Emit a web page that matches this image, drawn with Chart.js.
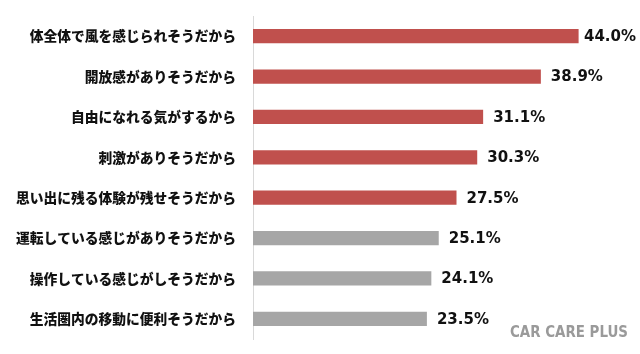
<!DOCTYPE html>
<html>
<head>
<meta charset="utf-8">
<script src="https://cdn.jsdelivr.net/npm/chart.js@4/dist/chart.umd.min.js"></script>
<style>
  html, body { margin: 0; padding: 0; background: #fff; }
  #wrap { width: 640px; height: 354px; }
</style>
</head>
<body>
<div id="wrap"><canvas id="myChart" width="640" height="354"></canvas></div>
<script>
// Data
const reasons = [
  '体全体で風を感じられそうだから',
  '開放感がありそうだから',
  '自由になれる気がするから',
  '刺激がありそうだから',
  '思い出に残る体験が残せそうだから',
  '運転している感じがありそうだから',
  '操作している感じがしそうだから',
  '生活圏内の移動に便利そうだから'
];
const shares = [44.0, 38.9, 31.1, 30.3, 27.5, 25.1, 24.1, 23.5];
const highlightCount = 5;

const RED = '#c0504d';
const GREY = '#a6a6a6';

// value labels at end of bars
const valueLabels = {
  id: 'valueLabels',
  afterDatasetsDraw(chart) {
    const ctx = chart.ctx;
    const meta = chart.getDatasetMeta(0);
    ctx.save();
    ctx.font = 'bold 15px "DejaVu Sans", Verdana, sans-serif';
    ctx.fillStyle = '#111';
    ctx.textBaseline = 'middle';
    meta.data.forEach((bar, i) => {
      const txt = shares[i].toFixed(1) + '%';
      const w = ctx.measureText(txt).width;
      let x = bar.x + 10;
      if (x + w > chart.width - 4) x = chart.width - 4 - w;
      ctx.fillText(txt, x, bar.y + 1);
    });
    ctx.restore();
  }
};

// watermark
const watermark = {
  id: 'watermark',
  afterDraw(chart) {
    const ctx = chart.ctx;
    ctx.save();
    ctx.font = 'bold 15px "DejaVu Sans Condensed", "Roboto", sans-serif';
    ctx.fillStyle = '#9a9a9a';
    ctx.textBaseline = 'alphabetic';
    ctx.textAlign = 'left';
    ctx.fillText('CAR CARE PLUS', 510, 337, 118);
    ctx.restore();
  }
};

const ctx = document.getElementById('myChart').getContext('2d');
new Chart(ctx, {
  type: 'bar',
  data: {
    labels: reasons,
    datasets: [{
      data: shares,
      backgroundColor: shares.map((v, i) => i < highlightCount ? RED : GREY),
      barPercentage: 0.35,
      categoryPercentage: 1.0,
      borderWidth: 0
    }]
  },
  options: {
    indexAxis: 'y',
    responsive: false,
    animation: false,
    layout: { padding: { left: 0, right: 17, top: 16, bottom: 15 } },
    plugins: {
      legend: { display: false },
      tooltip: { enabled: false }
    },
    scales: {
      x: {
        display: false,
        min: 0,
        max: 50
      },
      y: {
        afterFit(scale) {
          scale.width = 253;
          scale.paddingTop = 0;
          scale.paddingBottom = 0;
        },
        grid: { display: false, drawTicks: false },
        border: { display: true, color: '#d9d9d9', width: 1 },
        ticks: {
          padding: 17,
          color: '#111',
          font: { size: 13.75, weight: 900, family: '"Noto Sans CJK JP", sans-serif' }
        }
      }
    }
  },
  plugins: [valueLabels, watermark]
});
</script>
</body>
</html>
